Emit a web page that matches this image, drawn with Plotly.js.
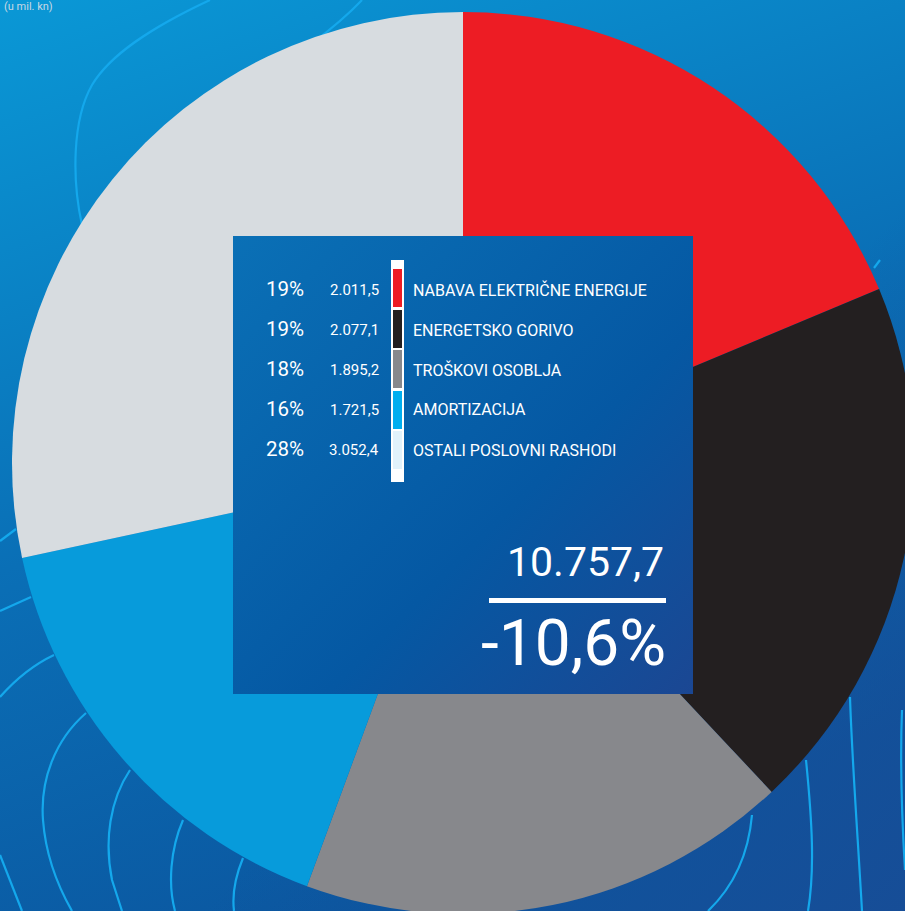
<!DOCTYPE html>
<html>
<head>
<meta charset="utf-8">
<script src="https://cdn.plot.ly/plotly-3.0.1.min.js"></script>
<style>
html,body{margin:0;padding:0;overflow:hidden;width:905px;height:911px;background:#0a7fc4;}
#chart{width:926px;height:926px;}
</style>
</head>
<body>
<div id="chart"></div>
<script>
// ---- data ----
const categories = ['NABAVA ELEKTRIČNE ENERGIJE','ENERGETSKO GORIVO','TROŠKOVI OSOBLJA','AMORTIZACIJA','OSTALI POSLOVNI RASHODI'];
const values = [2011.5, 2077.1, 1895.2, 1721.5, 3052.4];
const sliceColors = ['#ED1C24','#231F20','#87888C','#079BDB','#D7DCE0'];
const swatchColors = ['#ED1C24','#231F20','#87888C','#00AEEF','#E1F2FB'];
const unitLabel = '(u mil. kn)';
const changePct = -10.6;

// ---- helpers ----
function fmtHr(v, dec){
  const s = v.toFixed(dec);
  let [i, d] = s.split('.');
  const neg = i.startsWith('-'); if(neg) i = i.slice(1);
  i = i.replace(/\B(?=(\d{3})+(?!\d))/g, '.');
  return (neg?'-':'') + i + (d ? ',' + d : '');
}
const total = values.reduce((a,b)=>a+b,0);

const W = 926, M = 12, P = W - 2*M;
const px = x => (x - M) / P;
const py = y => 1 - (y - M) / P;

const FONT = 'Roboto, "DejaVu Sans", sans-serif';

// background svg
const bgSvg = `<svg xmlns="http://www.w3.org/2000/svg" width="926" height="926" viewBox="0 0 926 926">
<defs><linearGradient id="g" x1="0" y1="0" x2="0.35" y2="1">
<stop offset="0" stop-color="#0a98d6"/><stop offset="0.55" stop-color="#0a6fb6"/><stop offset="1" stop-color="#0b57a0"/></linearGradient>
<linearGradient id="g2" x1="0.6" y1="0.6" x2="1" y2="1"><stop offset="0" stop-color="#1a4a94" stop-opacity="0"/><stop offset="1" stop-color="#1a4a94" stop-opacity="0.8"/></linearGradient></defs>
<rect width="926" height="926" fill="url(#g)"/>
<rect width="926" height="926" fill="url(#g2)"/>
<g fill="none" stroke="#14a8ec" stroke-width="2.2">
<path d="M210,0 C150,28 110,55 92,85 C72,120 72,180 82,225"/>
<path d="M362,0 C345,18 330,30 310,45"/>
<path d="M0,541 L16,529"/>
<path d="M0,611 L31,597"/>
<path d="M0,697 C15,680 35,664 54,655"/>
<path d="M86,713 C55,740 40,780 43,820 C46,860 60,890 72,911"/>
<path d="M130,770 C110,800 104,840 112,880 L122,911"/>
<path d="M183,820 C170,850 168,885 175,911"/>
<path d="M243,858 C236,875 232,895 234,911"/>
<path d="M0,855 C8,875 15,893 22,911"/>
<path d="M850,697 C852,760 858,840 862,911"/>
<path d="M806,760 C812,820 815,870 808,911"/>
<path d="M752,815 C748,860 730,890 708,911"/>
<path d="M902,710 C900,760 902,820 905,870"/>
<path d="M874,268 L880,260"/>
</g>
</svg>`;

const boxSvg = `<svg xmlns="http://www.w3.org/2000/svg" width="460" height="458" viewBox="0 0 460 458">
<defs><linearGradient id="b" x1="0" y1="0" x2="1" y2="1">
<stop offset="0" stop-color="#0a70b6"/><stop offset="0.6" stop-color="#0558a3"/><stop offset="1" stop-color="#1b4793"/></linearGradient></defs>
<rect width="460" height="458" fill="url(#b)"/></svg>`;

const toUri = s => 'data:image/svg+xml;charset=utf-8,' + encodeURIComponent(s);

const trace = {
  type: 'pie',
  labels: categories,
  values: values,
  sort: false,
  direction: 'clockwise',
  rotation: 0,
  marker: {colors: sliceColors, line: {width: 0}},
  textinfo: 'none',
  hoverinfo: 'skip',
  showlegend: false
};

const shapes = [];
const annotations = [];
// white strip behind swatches
shapes.push({type:'rect', xref:'paper', yref:'paper', layer:'above', x0:px(391), x1:px(404), y0:py(260), y1:py(482), fillcolor:'#ffffff', line:{width:0}});
const rowY = [289, 329, 369, 409, 449];
const swTop = [269, 310, 350, 391, 431];
categories.forEach((c, i) => {
  shapes.push({type:'rect', xref:'paper', yref:'paper', layer:'above', x0:px(393), x1:px(402), y0:py(swTop[i]), y1:py(swTop[i]+38), fillcolor:swatchColors[i], line:{width:0}});
  const pct = Math.round(values[i] / total * 100) + '%';
  annotations.push({xref:'paper', yref:'paper', x:px(306), y:py(rowY[i]), xanchor:'right', yanchor:'middle', showarrow:false, text:pct, font:{family:FONT, size:20.5, color:'#ffffff'}});
  annotations.push({xref:'paper', yref:'paper', x:px(381), y:py(rowY[i]+1), xanchor:'right', yanchor:'middle', showarrow:false, text:fmtHr(values[i],1), font:{family:FONT, size:15, color:'#ffffff'}});
  annotations.push({xref:'paper', yref:'paper', x:px(411), y:py(rowY[i]+1), xanchor:'left', yanchor:'middle', showarrow:false, text:c, font:{family:FONT, size:16, color:'#ffffff'}});
});
// total line
shapes.push({type:'rect', xref:'paper', yref:'paper', layer:'above', x0:px(489), x1:px(666), y0:py(598), y1:py(603), fillcolor:'#ffffff', line:{width:0}});
annotations.push({xref:'paper', yref:'paper', x:px(666), y:py(562), xanchor:'right', yanchor:'middle', showarrow:false, text:fmtHr(total,1), font:{family:FONT, size:41, color:'#ffffff'}});
annotations.push({xref:'paper', yref:'paper', x:px(668), y:py(643), xanchor:'right', yanchor:'middle', showarrow:false, text:fmtHr(changePct,1) + '%', font:{family:FONT, size:64, color:'#ffffff'}});
annotations.push({xref:'paper', yref:'paper', x:px(2), y:py(7), xanchor:'left', yanchor:'middle', showarrow:false, text:unitLabel, font:{family:FONT, size:11, color:'#c9d7e3'}});

const layout = {
  width: W, height: W,
  margin: {l:M, r:M, t:M, b:M, pad:0},
  paper_bgcolor: 'rgba(0,0,0,0)',
  plot_bgcolor: 'rgba(0,0,0,0)',
  showlegend: false,
  images: [
    {source: toUri(bgSvg), xref:'paper', yref:'paper', x:px(0), y:py(0), sizex:W/P, sizey:W/P, xanchor:'left', yanchor:'top', sizing:'stretch', layer:'below'},
    {source: toUri(boxSvg), xref:'paper', yref:'paper', x:px(233), y:py(236), sizex:460/P, sizey:458/P, xanchor:'left', yanchor:'top', sizing:'stretch', layer:'above'}
  ],
  shapes: shapes,
  annotations: annotations
};

Plotly.newPlot('chart', [trace], layout, {displayModeBar:false, staticPlot:true});
</script>
</body>
</html>
